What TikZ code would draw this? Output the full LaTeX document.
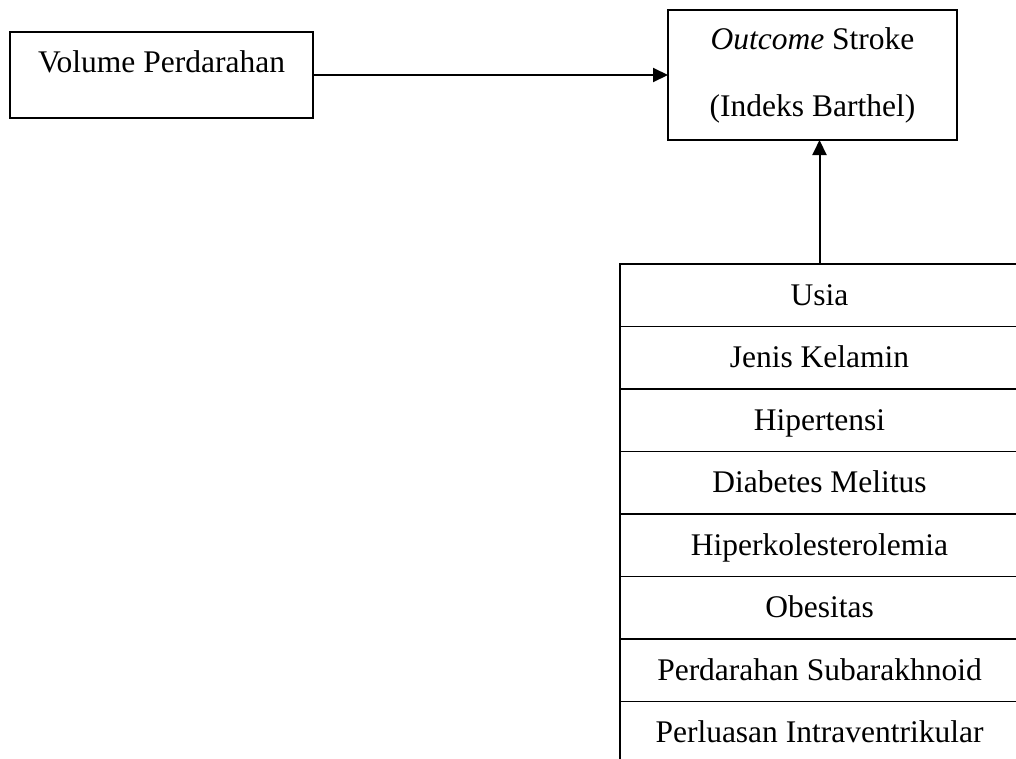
\documentclass[tikz,border=0pt]{standalone}
\usepackage{fontspec}
\setmainfont{Liberation Serif}
\usetikzlibrary{arrows.meta}
\begin{document}
\begin{tikzpicture}[x=1pt,y=-1pt,
  box/.style={draw=black, line width=1.8pt, inner sep=0pt, outer sep=0pt, font=\fontsize{31.5}{38}\selectfont},
  rowbox/.style={box, minimum width=399pt, minimum height=62.5pt, text height=21pt, text depth=1pt, anchor=north},
  conn/.style={line width=2pt, -{Triangle[length=15pt,width=14pt]}}]
\useasboundingbox (0,0) rectangle (1016,758);
\clip (0,0) rectangle (1016,758);
\node[box, minimum width=303pt, minimum height=86pt,
  label={[font=\fontsize{31.5}{38}\selectfont, text height=21pt, text depth=1pt, inner sep=0pt, yshift=13pt]center:Volume Perdarahan}] (vol) at (161.5,75) {};
\node[box, minimum width=289pt, minimum height=130pt, align=center,
  font=\fontsize{31.5}{67}\selectfont] (out) at (812.5,75) {\textit{Outcome} Stroke\\(Indeks Barthel)};
\node[rowbox] (r1) at (819.5,264) {Usia};
\node[rowbox] (r2) at (r1.south) {Jenis Kelamin};
\node[rowbox] (r3) at (r2.south) {Hipertensi};
\node[rowbox] (r4) at (r3.south) {Diabetes Melitus};
\node[rowbox] (r5) at (r4.south) {Hiperkolesterolemia};
\node[rowbox] (r6) at (r5.south) {Obesitas};
\node[rowbox] (r7) at (r6.south) {Perdarahan Subarakhnoid};
\node[rowbox] (r8) at (r7.south) {Perluasan Intraventrikular};
\draw[conn] (vol.east) -- (out.west);
\draw[conn] (r1.north) -- (r1.north |- out.south);
\end{tikzpicture}
\end{document}
